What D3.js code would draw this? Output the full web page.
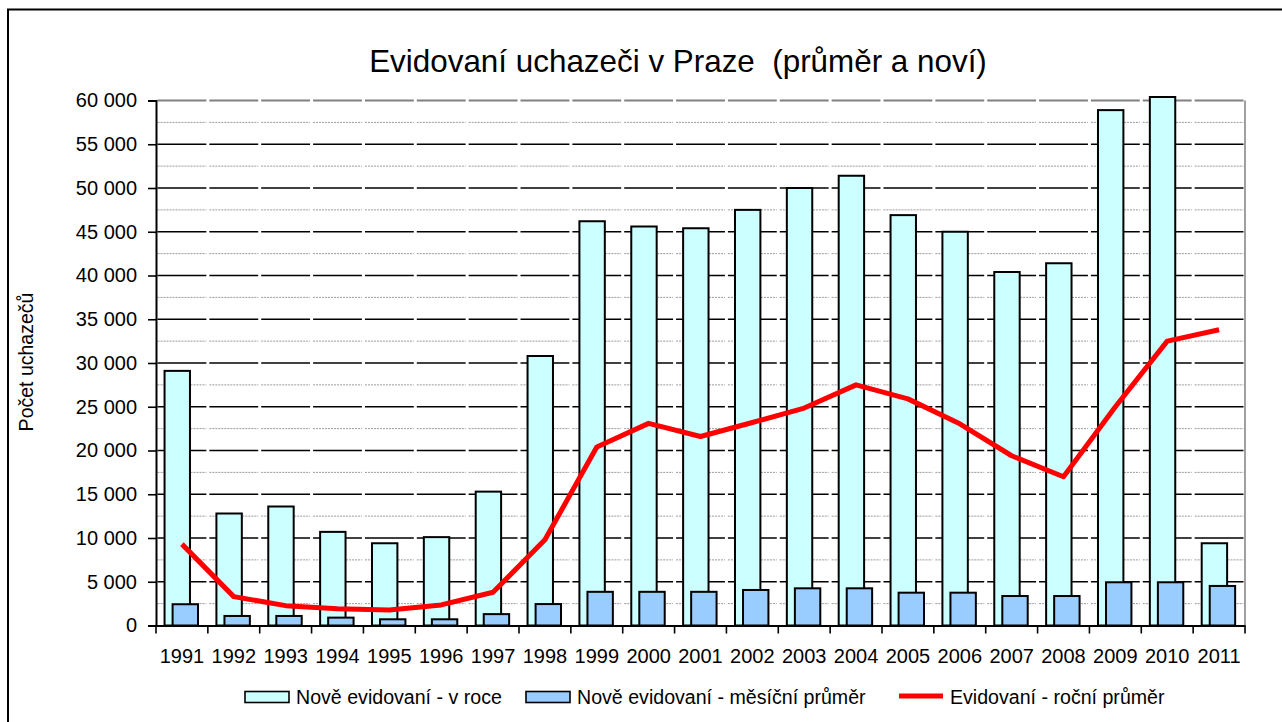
<!DOCTYPE html>
<html>
<head>
<meta charset="utf-8">
<script src="https://cdn.jsdelivr.net/npm/d3@7"></script>
<style>
  body { margin: 0; background: #fff; }
  text { font-family: "Liberation Sans", Arial, sans-serif; fill: #000; }
</style>
</head>
<body>
<div id="chart"></div>
<script>
// data
var years = ["1991","1992","1993","1994","1995","1996","1997","1998","1999","2000","2001",
             "2002","2003","2004","2005","2006","2007","2008","2009","2010","2011"];
var noveRok = [29100, 12800, 13600, 10700, 9400, 10100, 15300, 30800, 46200, 45600, 45400,
               47500, 50000, 51400, 46900, 45000, 40400, 41400, 58900, 60400, 9400];
var noveMesic = [2430, 1090, 1090, 900, 710, 710, 1300, 2450, 3850, 3850, 3850,
                 4060, 4250, 4250, 3750, 3750, 3370, 3370, 4940, 4940, 4520];
var prumer = [9300, 3300, 2270, 1920, 1770, 2350, 3800, 9800, 20400, 23100, 21600,
              23200, 24850, 27500, 25900, 23050, 19400, 17000, 25000, 32500, 33800];
var yTicks = d3.range(0, 60001, 5000);
var yMinor = d3.range(2500, 60000, 5000);
var legendNames = ["Nově evidovaní - v roce", "Nově evidovaní - měsíční průměr", "Evidovaní - roční průměr"];

var W = 1282, H = 722;
var margin = {top: 100.5, right: 37, bottom: 96.5, left: 156},
  width = W - margin.left - margin.right,
  height = H - margin.top - margin.bottom;

var svg = d3.select("#chart")
  .append("svg")
    .attr("width", W)
    .attr("height", H);

// outer frame
svg.append("rect")
  .attr("x", 8).attr("y", 9.5)
  .attr("width", 1400).attr("height", 900)
  .attr("fill", "none")
  .attr("stroke", "#000")
  .attr("stroke-width", 2);

var g = svg.append("g")
  .attr("transform", "translate(" + margin.left + "," + margin.top + ")");

var x = d3.scaleBand().domain(years).range([0, width]).padding(0);
var y = d3.scaleLinear().domain([0, 60000]).range([height, 0]);
var bw = x.bandwidth();

// minor gridlines (dotted grey), broken at category boundaries
yMinor.forEach(function(v) {
  g.selectAll(null)
    .data(years)
    .enter()
    .append("line")
    .attr("x1", function(d) { return x(d) + 1.5; })
    .attr("x2", function(d) { return x(d) + bw - 1.5; })
    .attr("y1", y(v)).attr("y2", y(v))
    .attr("stroke", "#9a9a9a")
    .attr("stroke-width", 1)
    .attr("stroke-dasharray", "2,1");
});

// major gridlines
yTicks.filter(function(v) { return v > 0; }).forEach(function(v) {
  g.selectAll(null)
    .data(years)
    .enter()
    .append("line")
    .attr("x1", function(d) { return x(d) + 1.5; })
    .attr("x2", function(d) { return x(d) + bw - 1.5; })
    .attr("y1", y(v)).attr("y2", y(v))
    .attr("stroke", v === 60000 ? "#808080" : "#000")
    .attr("stroke-width", v === 60000 ? 2 : 1.6);
});

// right border of plot area
g.append("line")
  .attr("x1", width).attr("x2", width)
  .attr("y1", 0).attr("y2", height)
  .attr("stroke", "#808080")
  .attr("stroke-width", 1.5);

// bars
var barW = bw * 0.49;
g.selectAll(".rok")
  .data(noveRok)
  .enter()
  .append("rect")
  .attr("class", "rok")
  .attr("x", function(d, i) { return x(years[i]) + bw * 0.165; })
  .attr("y", function(d) { return y(d); })
  .attr("width", barW)
  .attr("height", function(d) { return height - y(d); })
  .attr("fill", "#ccffff")
  .attr("stroke", "#000")
  .attr("stroke-width", 2);

g.selectAll(".mesic")
  .data(noveMesic)
  .enter()
  .append("rect")
  .attr("class", "mesic")
  .attr("x", function(d, i) { return x(years[i]) + bw * 0.32; })
  .attr("y", function(d) { return y(d); })
  .attr("width", barW)
  .attr("height", function(d) { return height - y(d); })
  .attr("fill", "#99ccff")
  .attr("stroke", "#000")
  .attr("stroke-width", 2);

// line
var line = d3.line()
  .x(function(d, i) { return x(years[i]) + bw / 2; })
  .y(function(d) { return y(d); });

g.append("path")
  .datum(prumer)
  .attr("d", line)
  .attr("fill", "none")
  .attr("stroke", "#ff0000")
  .attr("stroke-width", 5)
  .attr("stroke-linejoin", "round");

// y axis
var cz = d3.formatLocale({decimal: ",", thousands: " ", grouping: [3], currency: ["", ""]});
var yAxis = g.append("g")
  .call(d3.axisLeft(y).tickValues(yTicks).tickSize(8).tickPadding(11).tickFormat(cz.format(",")));
yAxis.select(".domain").attr("stroke", "#000").attr("stroke-width", 2);
yAxis.selectAll(".tick line").attr("stroke-width", 1.6);
yAxis.selectAll("text").style("font-size", "20px");

// x axis
var xAxis = g.append("g")
  .attr("transform", "translate(0," + height + ")")
  .call(d3.axisBottom(x).tickSize(0).tickPadding(23));
xAxis.select(".domain").attr("stroke", "#000").attr("stroke-width", 2);
xAxis.selectAll("text").style("font-size", "20px");

// x ticks at category boundaries
var bounds = years.map(function(d) { return x(d); }).concat([width]);
g.selectAll(".xtick")
  .data(bounds)
  .enter()
  .append("line")
  .attr("x1", function(d) { return d; })
  .attr("x2", function(d) { return d; })
  .attr("y1", height).attr("y2", height + 8)
  .attr("stroke", "#000")
  .attr("stroke-width", 1.6);

// title
svg.append("text")
  .attr("x", 678)
  .attr("y", 72)
  .attr("text-anchor", "middle")
  .style("font-size", "31.4px")
  .style("white-space", "pre")
  .text("Evidovaní uchazeči v Praze  (průměr a noví)");

// y axis title
svg.append("text")
  .attr("transform", "translate(33,362) rotate(-90)")
  .attr("text-anchor", "middle")
  .style("font-size", "19.5px")
  .text("Počet uchazečů");

// legend
var legX = [245, 526, 899];
var leg = svg.selectAll(".leg")
  .data(legendNames)
  .enter()
  .append("g")
  .attr("class", "leg")
  .attr("transform", function(d, i) { return "translate(" + legX[i] + ",697)"; });

leg.each(function(d, i) {
  var s = d3.select(this);
  if (i < 2) {
    s.append("rect")
      .attr("x", 0).attr("y", -5.5)
      .attr("width", 44).attr("height", 11)
      .attr("fill", i === 0 ? "#ccffff" : "#99ccff")
      .attr("stroke", "#000")
      .attr("stroke-width", 1.6);
  } else {
    s.append("line")
      .attr("x1", 0).attr("x2", 44)
      .attr("y1", -1).attr("y2", -1)
      .attr("stroke", "#ff0000")
      .attr("stroke-width", 5);
  }
  s.append("text")
    .attr("x", 51)
    .attr("y", 6.5)
    .style("font-size", "19.6px")
    .text(d);
});
</script>
</body>
</html>
